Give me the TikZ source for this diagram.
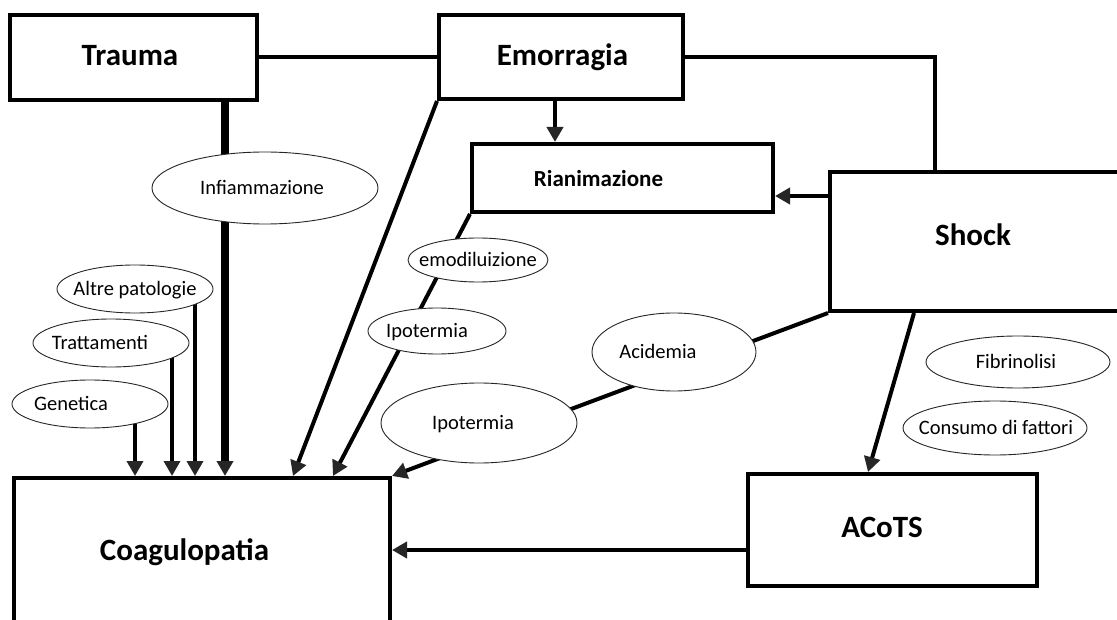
\documentclass[tikz,border=0pt]{standalone}
\usepackage{fontspec}
\setmainfont{Carlito}
\usetikzlibrary{arrows.meta,shapes.geometric}
\pgfdeclarelayer{background}
\pgfsetlayers{background,main}
% zero-width label, shifted sideways, so the ellipse keeps its given size
\newcommand\nudge[2]{\makebox[0pt]{\kern#1\relax#2\kern-#1\relax}}
\begin{document}
\begin{tikzpicture}[x=1pt,y=-1pt,
  box/.style={draw=black, line width=4pt, rectangle, inner sep=0pt},
  boxtext/.style={font=\fontsize{31}{33}\selectfont\bfseries, text height=20pt, text depth=0pt, inner sep=0pt},
  smalltext/.style={font=\fontsize{23}{25}\selectfont\bfseries, text height=14.8pt, text depth=0pt, inner sep=0pt},
  factor/.style={draw=black!85, line width=0.9pt, ellipse, fill=white, inner sep=0pt,
    font=\fontsize{20.5}{22}\selectfont, text height=13.2pt, text depth=0pt},
  link/.style={line width=4pt, draw=black},
  arr/.style={link, -{Triangle[length=15pt,width=16pt,color=black!85]}},
  thin arr/.style={arr, line width=3.5pt}
]
\useasboundingbox (0,0) rectangle (1117,620);
\begin{pgfonlayer}{background}
  \fill[white] (0,0) rectangle (1117,620);
\end{pgfonlayer}

% main boxes
\node[box, minimum width=247pt, minimum height=85pt,
  label={[boxtext, name=trauma-l, xshift=-3.5pt, yshift=2pt]center:Trauma}] (trauma) at (133.5,57.5) {};
\node[box, minimum width=244pt, minimum height=84pt,
  label={[boxtext, name=emorragia-l, xshift=1.5pt, yshift=1pt]center:Emorragia}] (emorragia) at (561,57) {};
\node[box, minimum width=301pt, minimum height=68pt,
  label={[smalltext, name=rianimazione-l, xshift=-24pt, yshift=-1.5pt]center:Rianimazione}] (rianimazione) at (622.5,178) {};
\node[box, minimum width=295pt, minimum height=139pt,
  label={[boxtext, name=shock-l, xshift=-4.5pt, yshift=6pt]center:Shock}] (shock) at (977.5,241.5) {};
\node[box, minimum width=376pt, minimum height=152pt,
  label={[boxtext, name=coag-l, xshift=-17.5pt, yshift=3.5pt]center:Coagulopatia}] (coag) at (202,554) {};
\node[box, minimum width=289pt, minimum height=112pt,
  label={[boxtext, name=acots-l, xshift=-10.5pt, yshift=3pt]center:ACoTS}] (acots) at (892.5,530) {};

% contributing factors
\node[factor, minimum width=226pt, minimum height=72pt] (infl) at (265,188) {\nudge{-3pt}{Infiammazione}};
\node[factor, minimum width=156pt, minimum height=48pt] (altre) at (135,289) {\nudge{0pt}{Altre patologie}};
\node[factor, minimum width=156pt, minimum height=48pt] (tratt) at (111,343) {\nudge{-11pt}{Trattamenti}};
\node[factor, minimum width=156pt, minimum height=48pt] (gene) at (90,404) {\nudge{-19pt}{Genetica}};
\node[factor, minimum width=140pt, minimum height=44pt] (emod) at (478,260) {\nudge{0pt}{emodiluizione}};
\node[factor, minimum width=138pt, minimum height=46pt] (ipo1) at (437,331) {\nudge{-10pt}{Ipotermia}};
\node[factor, minimum width=196pt, minimum height=80pt] (ipo2) at (479,423) {\nudge{-6pt}{Ipotermia}};
\node[factor, minimum width=164pt, minimum height=78pt] (acid) at (674,352) {\nudge{-16pt}{Acidemia}};
\node[factor, minimum width=184pt, minimum height=52pt] (fibr) at (1018,362) {\nudge{-2pt}{Fibrinolisi}};
\node[factor, minimum width=184pt, minimum height=54pt] (cons) at (995,428) {\nudge{1pt}{Consumo di fattori}};

\coordinate (shock-top) at ([xshift=-42.5pt]shock.north);

% connectors, kept behind the factor ellipses
\begin{pgfonlayer}{background}
  \draw[link] (trauma.east) -- (trauma.east -| emorragia.west);
  \draw[link] (emorragia.east) -| (shock-top);
  \draw[arr] ([xshift=-6pt]emorragia.south) -- ([xshift=-6pt]emorragia.south |- rianimazione.north);
  \draw[arr] ([yshift=45.5pt]shock.west) -- ([yshift=45.5pt]shock.west -| rianimazione.east);
  \draw[arr] ([xshift=-63.5pt]shock.south) -- ([xshift=-24.5pt]acots.north);
  \draw[arr] ([yshift=-20pt]acots.west) -- ([yshift=-20pt]acots.west -| coag.east);
  \draw[arr] (shock.south west) -- (coag.north east);
  \draw[arr] (emorragia.south west) -- ([xshift=91pt]coag.north);
  \draw[arr] (rianimazione.south west) -- ([xshift=131pt]coag.north);
  \draw[arr, line width=7.5pt] ([xshift=91.5pt]trauma.south) -- ([xshift=23pt]coag.north);
  \draw[thin arr] ([xshift=60pt]altre.center) -- ([xshift=60pt]altre.center |- coag.north);
  \draw[thin arr] ([xshift=61pt]tratt.center) -- ([xshift=61pt]tratt.center |- coag.north);
  \draw[thin arr] ([xshift=45pt]gene.center) -- ([xshift=45pt]gene.center |- coag.north);
\end{pgfonlayer}
\end{tikzpicture}
\end{document}
